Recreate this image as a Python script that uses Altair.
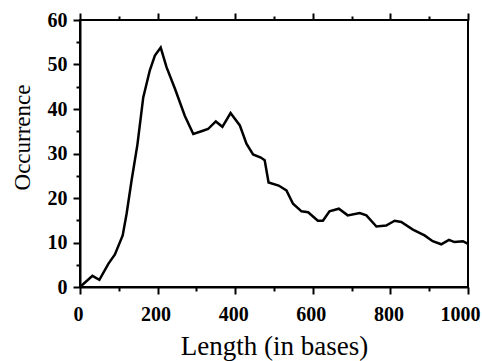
import altair as alt
import pandas as pd

length = [0, 32, 50, 73, 90, 110, 120, 133, 148, 163, 180, 193, 208, 223, 245, 270,
          292, 313, 330, 350, 367, 388, 412, 429, 446, 466, 476, 486, 512, 532, 549,
          571, 588, 613, 626, 643, 667, 690, 721, 738, 764, 789, 811, 828, 858, 888,
          909, 931, 951, 965, 987, 1000]
occurrence = [0, 2.5, 1.6, 5.2, 7.3, 11.6, 16.4, 24, 32, 42.6, 48.7, 52, 53.8, 49.4,
              44.5, 38.5, 34.4, 35, 35.5, 37.2, 36, 39.1, 36.3, 32.2, 29.8, 29.1, 28.5,
              23.5, 22.8, 21.7, 18.7, 17, 16.8, 14.9, 14.9, 17, 17.6, 16.1, 16.6, 16.1,
              13.6, 13.8, 14.9, 14.6, 12.9, 11.6, 10.3, 9.6, 10.6, 10.1, 10.3, 9.7]
x_ticks = list(range(0, 1001, 100))
y_ticks = list(range(0, 61, 5))

df = pd.DataFrame({"length": length, "occurrence": occurrence})

FONT = "Liberation Serif"

x_scale = alt.Scale(domain=[0, 1000], nice=False, zero=False)
y_scale = alt.Scale(domain=[0, 60], nice=False)

base = alt.Chart(df)

main = base.mark_line(color="black", strokeWidth=2.5).encode(
    x=alt.X("length:Q", scale=x_scale,
            axis=alt.Axis(orient="bottom", values=x_ticks, title="Length (in bases)", format="d",
                          labelExpr="datum.value % 200 == 0 ? datum.label : ''",
                          tickSize={"condition": {"test": "datum.value % 200 == 0", "value": 7}, "value": 4},
                          labelOffset={"condition": {"test": "datum.value == 1000", "value": -8}, "value": -2},
                          labelFlush=False, labelOverlap=False,
                          tickColor="black", tickWidth=2, domainColor="black", domainWidth=2,
                          labelFont=FONT, labelFontSize=20, labelFontWeight="bold", labelColor="black",
                          labelPadding=10, grid=False,
                          titleFont=FONT, titleFontSize=27, titleFontWeight="normal", titleColor="black",
                          titleY=67, titleBaseline="alphabetic")),
    y=alt.Y("occurrence:Q", scale=y_scale,
            axis=alt.Axis(orient="left", values=y_ticks, title="Occurrence", format="d",
                          labelExpr="datum.value % 10 == 0 ? datum.label : ''",
                          tickSize={"condition": {"test": "datum.value % 10 == 0", "value": 7}, "value": 4},
                          labelFlush=False, labelOverlap=False,
                          tickColor="black", tickWidth=2, domainColor="black", domainWidth=2,
                          labelFont=FONT, labelFontSize=20, labelFontWeight="bold", labelColor="black",
                          labelPadding=6, grid=False,
                          titleFont=FONT, titleFontSize=23, titleFontWeight="normal", titleColor="black",
                          titleAngle=270, titleX=-58, titleY=117, titleAlign="center",
                          titleBaseline="middle")),
)

top = base.mark_line(strokeOpacity=0).encode(
    x=alt.X("length:Q", scale=x_scale,
            axis=alt.Axis(orient="top", values=x_ticks, title=None, labels=False, domain=False,
                          tickSize={"condition": {"test": "datum.value % 200 == 0", "value": 7}, "value": 4},
                          tickColor="black", tickWidth=2, grid=False)),
    y=alt.Y("occurrence:Q", scale=y_scale, axis=None),
)

chart = alt.layer(main, top).resolve_axis(x="independent", y="independent").properties(
    width=388, height=267,
    autosize=alt.AutoSizeParams(type="none"),
    padding={"left": 80, "top": 20, "right": 14, "bottom": 74},
    background="white",
).configure_view(stroke="black", strokeWidth=2)

chart.save("out.html", embed_options={"renderer": "svg", "actions": False})
